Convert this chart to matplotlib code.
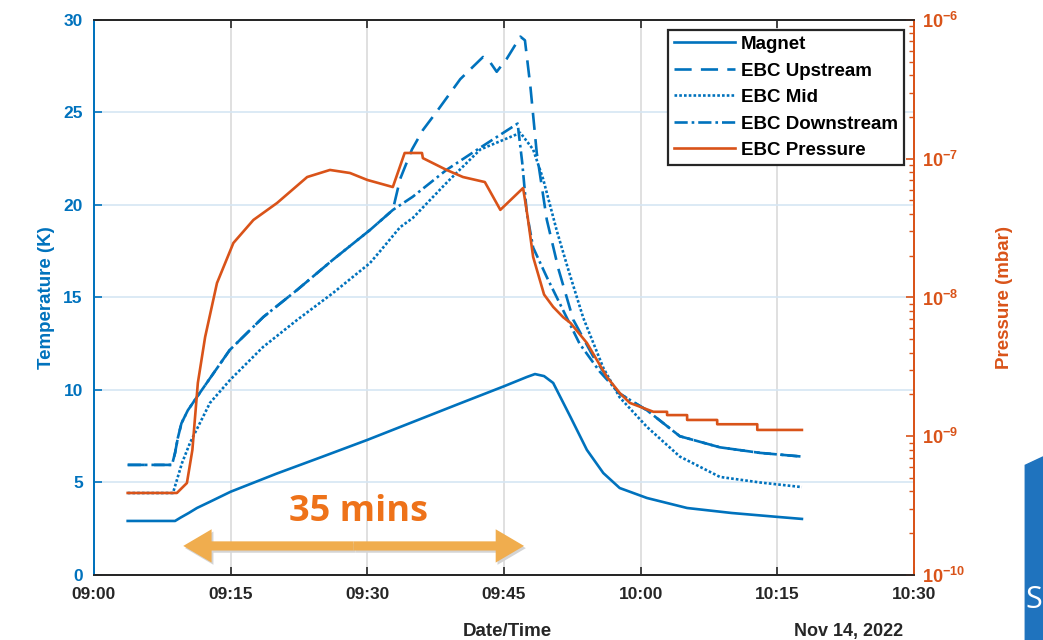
from datetime import datetime, timedelta
from matplotlib import pyplot as plt
from matplotlib import dates as mdates
from matplotlib import ticker
from matplotlib.patches import Polygon
import numpy as np

plt.rcParams['font.family'] = ['Liberation Sans', 'DejaVu Sans']
plt.rcParams['mathtext.fontset'] = 'custom'
plt.rcParams['mathtext.bf'] = 'Liberation Sans:bold'
plt.rcParams['mathtext.rm'] = 'Liberation Sans:bold'

BLUE = '#0072BD'
ORANGE = '#D95319'
DARK = '#262626'

# minutes after 09:00 on Nov 14, 2022
magnet_t = [3.7, 8.9, 9.5, 10.4, 11.3, 12.7, 15.0, 20.0, 25.0, 30.0, 35.0, 40.0, 45.0,
            47.5, 48.4, 49.4, 50.4, 52.3, 54.1, 55.9, 57.7, 60.7, 65.1, 70.0, 75.0, 77.7]
magnet_T = [2.92, 2.92, 3.1, 3.35, 3.62, 3.95, 4.5, 5.47, 6.38, 7.3, 8.27, 9.24, 10.2,
            10.7, 10.86, 10.75, 10.38, 8.54, 6.76, 5.51, 4.7, 4.16, 3.62, 3.35, 3.14, 3.03]

up_t = [3.7, 8.56, 8.9, 9.2, 9.6, 10.3, 11.3, 14.9, 18.6, 22.3, 26.2, 30.3, 32.8,
        33.6, 34.9, 36.1, 37.7, 40.2, 42.7, 43.5, 44.2, 45.3, 46.8, 47.3, 47.9,
        48.6, 49.7, 51.0, 52.6, 54.8, 57.0, 57.7, 60.7, 64.3, 68.7, 73.1, 77.7]
up_T = [5.95, 5.95, 6.6, 7.4, 8.2, 8.9, 9.62, 12.16, 13.95, 15.41, 17.03, 18.65, 19.73,
        21.4, 23.0, 24.05, 25.1, 26.8, 28.0, 27.7, 27.2, 27.9, 29.1, 28.9, 26.4,
        22.8, 19.2, 16.5, 13.8, 11.8, 10.2, 9.8, 8.9, 7.5, 6.9, 6.6, 6.4]

mid_t = [3.7, 8.67, 9.66, 10.54, 12.73, 14.93, 18.55, 22.28, 26.23, 30.29, 31.4, 33.6,
         35.0, 38.7, 42.4, 46.8, 48.2, 49.3, 50.8, 52.0, 53.7, 55.9, 57.7, 60.7,
         64.3, 68.7, 73.1, 77.7]
mid_T = [4.43, 4.43, 6.05, 7.14, 9.30, 10.54, 12.32, 13.78, 15.24, 16.86, 17.5, 18.8,
         19.3, 21.2, 23.0, 23.9, 23.0, 21.4, 18.6, 16.6, 13.9, 11.2, 9.6, 8.0,
         6.4, 5.3, 5.0, 4.75]

down_t = [3.7, 8.56, 8.9, 9.2, 9.6, 10.3, 11.3, 14.9, 18.6, 22.3, 26.2, 30.3, 32.8,
          35.0, 38.7, 42.4, 46.5, 47.0, 47.5, 48.2, 49.7, 51.5, 53.3, 55.5, 57.7,
          60.7, 64.3, 68.7, 73.1, 77.7]
down_T = [5.95, 5.95, 6.6, 7.4, 8.2, 8.9, 9.62, 12.16, 13.95, 15.41, 17.03, 18.65, 19.73,
          20.45, 21.9, 23.1, 24.4, 22.3, 19.6, 17.7, 16.1, 14.3, 12.5, 11.0, 9.8,
          8.9, 7.5, 6.9, 6.6, 6.4]

press_t = [3.7, 9.1, 10.2, 10.8, 11.4, 12.2, 13.5, 15.3, 17.5, 20.1, 23.4, 25.9, 28.1,
           30.0, 32.8, 34.1, 36.0, 36.1, 38.7, 40.5, 42.9, 44.6, 47.1, 47.6, 48.2,
           49.4, 50.4, 51.5, 52.3, 54.1, 56.3, 57.7, 58.8, 61.4, 62.9, 62.9, 65.1,
           65.1, 68.4, 68.4, 72.8, 72.8, 77.7]
press_P = [3.9e-10, 3.9e-10, 4.6e-10, 7.96e-10, 2.42e-9, 5.19e-9, 1.27e-8, 2.47e-8,
           3.62e-8, 4.8e-8, 7.38e-8, 8.3e-8, 7.89e-8, 7.03e-8, 6.25e-8, 1.1e-7, 1.1e-7,
           1.01e-7, 8.3e-8, 7.38e-8, 6.79e-8, 4.28e-8, 6.15e-8, 3.8e-8, 1.96e-8,
           1.05e-8, 8.55e-9, 7.2e-9, 6.55e-9, 4.7e-9, 2.67e-9, 2.05e-9, 1.74e-9,
           1.5e-9, 1.5e-9, 1.42e-9, 1.42e-9, 1.31e-9, 1.31e-9, 1.22e-9, 1.22e-9,
           1.11e-9, 1.11e-9]

BASE = datetime(2022, 11, 14, 9, 0)


def to_time(mins):
    return [BASE + timedelta(minutes=m) for m in mins]


fig = plt.figure(figsize=(10.43, 6.4), dpi=100)
ax = fig.add_axes([0.0901, 0.1016, 0.7862, 0.8672])
ax2 = ax.twinx()

lw = 1.9
l1, = ax.plot(to_time(magnet_t), magnet_T, color=BLUE, lw=lw, label='Magnet')
l2, = ax.plot(to_time(up_t), up_T, color=BLUE, lw=lw, ls=(0, (6.5, 3.5)), label='EBC Upstream')
l3, = ax.plot(to_time(mid_t), mid_T, color=BLUE, lw=lw, ls=(0, (1, 0.8)), label='EBC Mid')
l4, = ax.plot(to_time(down_t), down_T, color=BLUE, lw=lw, ls=(0, (5, 1.5, 1, 1.5)),
              label='EBC Downstream')
l5, = ax2.plot(to_time(press_t), press_P, color=ORANGE, lw=lw, label='EBC Pressure')

ax.set_xlim(BASE, BASE + timedelta(minutes=90))
ax.set_ylim(0, 30)
ax2.set_yscale('log')
ax2.set_ylim(1e-10, 1e-6)

ax.xaxis.set_major_locator(mdates.MinuteLocator(byminute=[0, 15, 30, 45]))
ax.xaxis.set_major_formatter(mdates.DateFormatter('%H:%M'))
ax.set_yticks(np.arange(0, 31, 5))

# grid: gray vertical, light blue horizontal
ax.grid(axis='x', color='#DADADA', lw=1.2)
ax.grid(axis='y', color='#D6E6F3', lw=1.2)
ax.set_axisbelow(True)

ax.tick_params(axis='x', direction='in', top=True, colors=DARK, labelsize=12.5, length=6,
               width=1.2, pad=9)
ax.tick_params(axis='y', direction='in', colors=BLUE, labelsize=12.5, length=6, width=1.2,
               pad=8)
ax2.tick_params(axis='y', which='major', direction='in', colors=ORANGE, labelsize=13,
                length=6, width=1.2, pad=6)
ax2.tick_params(axis='y', which='minor', direction='in', colors=ORANGE, length=3.5,
                width=1.0)
ax2.yaxis.set_major_formatter(ticker.FuncFormatter(
    lambda v, p: r'$\mathbf{10^{%d}}$' % int(round(np.log10(v)))))
ax2.yaxis.set_minor_locator(ticker.LogLocator(base=10, subs=np.arange(2, 10)))
ax2.yaxis.set_minor_formatter(ticker.NullFormatter())

for a in (ax, ax2):
    a.spines['top'].set_color(DARK)
    a.spines['bottom'].set_color(DARK)
    a.spines['left'].set_color(BLUE)
    a.spines['right'].set_color(ORANGE)
    for s in a.spines.values():
        s.set_linewidth(1.3)

ax.set_ylabel('Temperature (K)', color=BLUE, fontsize=13.5, fontweight='bold', labelpad=6)
ax2.set_ylabel('Pressure (mbar)', color=ORANGE, fontsize=13.5, fontweight='bold', labelpad=22)
fig.text(0.486, 0.006, 'Date/Time', color=DARK, fontsize=13.5, fontweight='bold', ha='center')
fig.text(0.866, 0.006, 'Nov 14, 2022', color=DARK, fontsize=13, fontweight='bold', ha='right')

leg = ax2.legend(handles=[l1, l2, l3, l4, l5], loc='upper right',
                 prop={'weight': 'bold', 'size': 13.5}, handlelength=3.3, handletextpad=0.3,
                 labelspacing=0.5, borderaxespad=0.55, borderpad=0.3, fancybox=False,
                 framealpha=1, edgecolor=DARK)
leg.get_frame().set_linewidth(1.6)

# 35 minute annotation
arrow_y = 1.57
mid_m = (9.8 + 47.2) / 2
for dx, dy, col in [(0.2, -0.12, '#D4D4D4'), (0, 0, '#F0AD4E')]:
    for end in (9.8, 47.2):
        ax.annotate('', xy=(mdates.date2num(BASE + timedelta(minutes=end + dx)), arrow_y + dy),
                    xytext=(mdates.date2num(BASE + timedelta(minutes=mid_m + dx)), arrow_y + dy),
                    arrowprops=dict(arrowstyle='simple,head_length=1.7,head_width=2.0,tail_width=0.55',
                                    color=col, lw=0, shrinkA=0, shrinkB=0, mutation_scale=12))
ax.text(BASE + timedelta(minutes=mid_m + 0.5), 3.4, '35 mins', color='#EE7219', fontsize=26,
        fontweight='bold', ha='center', va='center', family=['Open Sans', 'DejaVu Sans'])

# slide decoration at the right edge
fig.patches.append(Polygon([[0.983, 0.0], [0.983, 0.273], [1.0, 0.286], [1.0, 0.0]],
                           closed=True, transform=fig.transFigure, color='#1F73BE'))
fig.text(0.9995, 0.05, 'S', color='white', fontsize=22, ha='right',
         family=['Open Sans', 'DejaVu Sans'])

# make every tick label bold once the ticks exist
fig.canvas.draw()
for lab in ax.get_xticklabels() + ax.get_yticklabels():
    lab.set_fontweight('bold')

fig.savefig('out.png', dpi=100)
